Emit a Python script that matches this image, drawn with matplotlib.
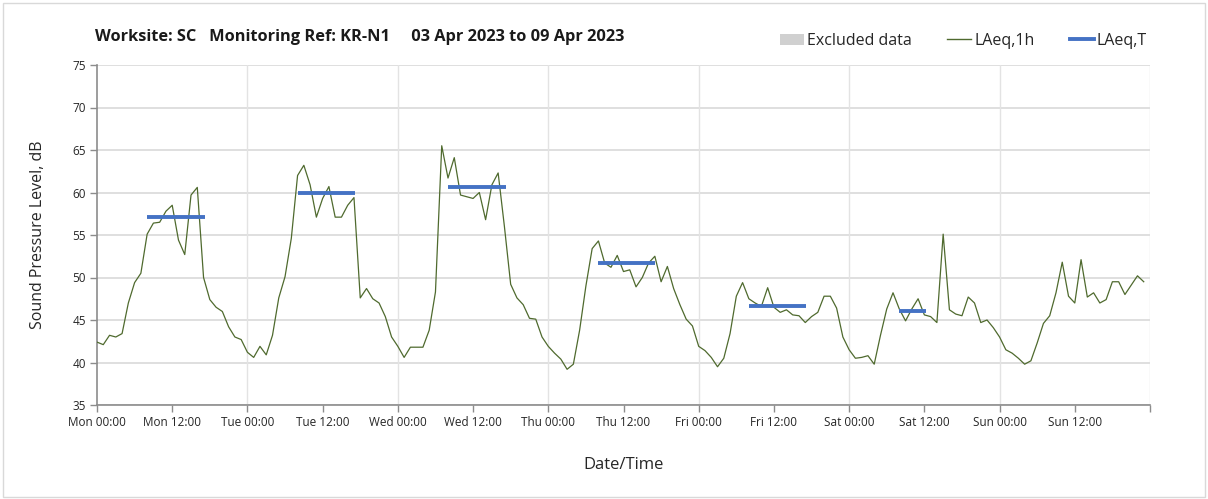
import matplotlib.pyplot as plt
import numpy as np
from matplotlib.patches import Rectangle
from matplotlib.lines import Line2D
from matplotlib.patches import Patch

plt.rcParams['font.family'] = ['Open Sans', 'DejaVu Sans']

# hourly LAeq, Mon 00:00 .. Sun 23:00
laeq_1h = [
    42.4, 42.1, 43.2, 43.0, 43.4, 47.0, 49.4, 50.5, 55.1, 56.4, 56.5, 57.8,
    58.5, 54.4, 52.7, 59.7, 60.6, 50.0, 47.4, 46.5, 46.0, 44.2, 43.0, 42.7,
    41.2, 40.6, 41.9, 40.9, 43.2, 47.6, 50.1, 54.6, 62.0, 63.2, 60.9, 57.1,
    59.3, 60.7, 57.1, 57.1, 58.5, 59.4, 47.6, 48.7, 47.5, 47.0, 45.4, 43.0,
    41.9, 40.6, 41.8, 41.8, 41.8, 43.8, 48.3, 65.5, 61.7, 64.1, 59.7, 59.5,
    59.3, 60.0, 56.8, 60.9, 62.3, 56.0, 49.2, 47.6, 46.8, 45.2, 45.1, 43.0,
    41.9, 41.1, 40.4, 39.2, 39.8, 43.8, 49.0, 53.4, 54.3, 51.7, 51.2, 52.6,
    50.7, 50.9, 48.9, 50.0, 51.7, 52.5, 49.5, 51.3, 48.7, 46.8, 45.1, 44.3,
    41.9, 41.4, 40.6, 39.5, 40.5, 43.4, 47.8, 49.4, 47.5, 47.0, 46.6, 48.8,
    46.5, 45.9, 46.2, 45.6, 45.5, 44.7, 45.4, 45.9, 47.8, 47.8, 46.4, 43.0,
    41.5, 40.5, 40.6, 40.8, 39.8, 43.2, 46.3, 48.2, 46.3, 44.9, 46.3, 47.5,
    45.6, 45.4, 44.7, 55.1, 46.2, 45.7, 45.5, 47.7, 47.0, 44.7, 45.0, 44.1,
    43.0, 41.5, 41.1, 40.5, 39.8, 40.2, 42.3, 44.6, 45.5, 48.2, 51.8, 47.8,
    47.0, 52.1, 47.7, 48.2, 47.0, 47.4, 49.5, 49.5, 48.0, 49.1, 50.2, 49.5,
]

# daytime LAeq,T per day (Mon..Sat) with period start/end hour of day
laeq_t = [57.1, 60.0, 60.6, 51.7, 46.6, 46.1]
period_start = [8, 8, 8, 8, 8, 8]
period_end = [17.2, 17.2, 17.2, 17.0, 17.1, 12.2]

day_names = ['Mon', 'Tue', 'Wed', 'Thu', 'Fri', 'Sat', 'Sun']

hours = np.arange(len(laeq_1h))
green = '#4f6a2e'
blue = '#4472c4'
axis_grey = '#8c8c8c'
grid_grey = '#d9d9d9'

fig = plt.figure(figsize=(12.08, 4.99), dpi=100)
fig.patches.append(Rectangle((0.0025, 0.004), 0.995, 0.99, transform=fig.transFigure,
                             fill=False, edgecolor='#d9d9d9', linewidth=1))
ax = fig.add_axes([97 / 1208, 1 - 405 / 499, 1053 / 1208, 340 / 499])

ax.plot(hours, laeq_1h, color=green, linewidth=0.9, zorder=3)
for d, (lvl, s, e) in enumerate(zip(laeq_t, period_start, period_end)):
    ax.plot([d * 24 + s, d * 24 + e], [lvl, lvl], color=blue, linewidth=2.8,
            solid_capstyle='butt', zorder=4)

ax.set_xlim(0, 168)
ax.set_ylim(35, 75)
ax.set_yticks(np.arange(35, 76, 5))
xt = np.arange(0, 168, 12)
ax.set_xticks(list(xt) + [168])
ax.set_xticklabels(['%s %s' % (day_names[int(t // 24)], '00:00' if t % 24 == 0 else '12:00')
                    for t in xt] + [''])

ax.grid(axis='y', color=grid_grey, linewidth=1.2)
for t in range(24, 169, 24):
    ax.axvline(t, color='#e3e3e3', linewidth=1.0, zorder=1)
ax.set_axisbelow(True)

for s in ['top', 'right']:
    ax.spines[s].set_visible(False)
for s in ['left', 'bottom']:
    ax.spines[s].set_color(axis_grey)
    ax.spines[s].set_linewidth(1.2)
ax.tick_params(axis='both', colors=axis_grey, length=5, width=1, labelsize=8.5)
ax.tick_params(axis='x', labelcolor='#262626', pad=3)
ax.tick_params(axis='y', labelcolor='#262626', pad=3)

ax.set_ylabel('Sound Pressure Level, dB', fontsize=11.5, color='#262626', labelpad=19)
ax.set_xlabel('Date/Time', fontsize=12, color='#262626', labelpad=20)

fig.text(95 / 1208, 1 - 37 / 499, 'Worksite: SC   Monitoring Ref: KR-N1     03 Apr 2023 to 09 Apr 2023',
         fontsize=11.8, fontweight='bold', va='center', ha='left', color='#1a1a1a')

handles = [Patch(facecolor='#d0d0d0', edgecolor='none'),
           Line2D([], [], color=green, linewidth=1),
           Line2D([], [], color=blue, linewidth=2.8)]
fig.legend(handles, ['Excluded data', 'LAeq,1h', 'LAeq,T'], loc='center right',
           bbox_to_anchor=(1147 / 1208, 1 - 41 / 499), ncol=3, frameon=False,
           fontsize=11.5, handlelength=1.5, handleheight=0.7, columnspacing=2.2,
           handletextpad=0.2, labelcolor='#262626', borderaxespad=0, borderpad=0)

fig.savefig('out.png', dpi=100, facecolor='white')
